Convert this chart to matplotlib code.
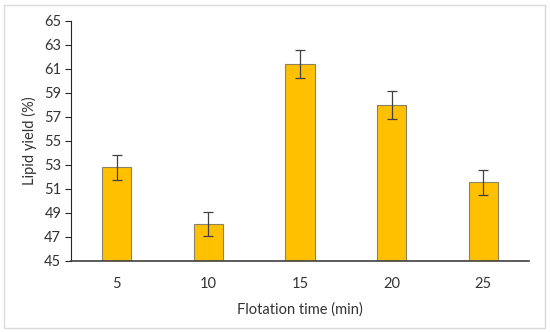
import numpy as np
import matplotlib.pyplot as plt
from matplotlib.patches import Rectangle

# flotation time categories and lipid yield
times = ['5', '10', '15', '20', '25']
lipid_yield = [52.8, 48.1, 61.4, 58.0, 51.55]
yield_err = [1.05, 1.0, 1.2, 1.15, 1.05]
y_ticks = [45, 47, 49, 51, 53, 55, 57, 59, 61, 63, 65]

plt.rcParams['font.family'] = ['Lato', 'DejaVu Sans']

fig = plt.figure(figsize=(5.5, 3.32), dpi=100)
ax = fig.add_axes([71 / 550, 1 - 260.7 / 332, 458 / 550, 240 / 332])

x = np.arange(len(times))
ax.bar(x, lipid_yield, width=0.32, color='#FFC000', edgecolor='#8C8268', linewidth=0.8,
       yerr=yield_err, capsize=3.5, error_kw=dict(ecolor='#404040', elinewidth=0.9, capthick=0.9),
       zorder=2)

ax.set_ylim(45, 65)
ax.set_xlim(-0.5, len(times) - 0.5)
ax.set_yticks(y_ticks)
ax.set_xticks(x)
ax.set_xticklabels(times)
ax.tick_params(axis='y', length=4, width=0.8, color='#262626', labelsize=10.5, labelcolor='#333333', pad=3)
ax.tick_params(axis='x', length=0, labelsize=10.5, labelcolor='#333333', pad=12)

for side in ['top', 'right']:
    ax.spines[side].set_visible(False)
ax.spines['left'].set_color('#262626')
ax.spines['bottom'].set_color('#404040')
ax.spines['bottom'].set_linewidth(1.2)

ax.set_xlabel('Flotation time (min)', fontsize=10.5, color='#333333', labelpad=8)
ax.set_ylabel('Lipid yield (%)', fontsize=10.5, color='#333333', labelpad=5)

# light frame around the whole chart
fig.patches.append(Rectangle((4 / 550, 4 / 332), 541 / 550, 323 / 332, transform=fig.transFigure,
                             fill=False, edgecolor='#D9D9D9', linewidth=1.0))

fig.savefig('out.png', dpi=100)
